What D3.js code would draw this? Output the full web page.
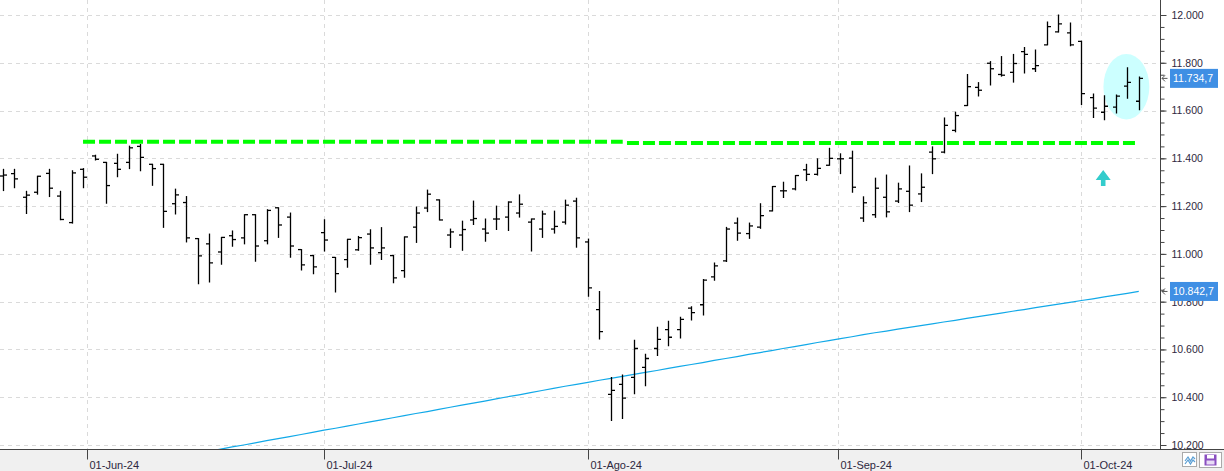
<!DOCTYPE html>
<html><head><meta charset="utf-8">
<script src="https://cdn.jsdelivr.net/npm/d3@7"></script>
<style>html,body{margin:0;padding:0;background:#fff;overflow:hidden}svg{display:block}</style>
</head><body><div id="chart"></div>
<script>
// ---- data (IBEX 35, daily OHLC bars, 22-May-24 .. 08-Oct-24) ----
const open = [11326,11336,11237,11258,11337,11242,11131,11354,11410,11383,
11379,11383,11450,11375,11375,11210,11215,11064,11042,11008,
11076,11067,11164,11055,11193,11154,11018,10993,11089,10985,
10976,11017,11083,11005,10993,10930,11112,11192,11226,11079,
11079,11142,11104,11146,11154,11171,11133,11104,11104,11133,
11221,11050,10767,10412,10454,10483,10525,10604,10683,10683,
10773,10787,10904,10971,11129,11085,11112,11180,11264,11272,
11352,11333,11371,11398,11401,11150,11164,11237,11221,11262,
11251,11426,11426,11517,11621,11697,11798,11751,11760,11847,
11775,11875,11929,11925,11890,11654,11593,11614,11702,11639];
const high = [11354,11354,11262,11325,11354,11262,11348,11357,11413,11383,
11417,11451,11458,11375,11375,11271,11240,11064,11083,11069,
11096,11164,11164,11185,11193,11171,11018,10993,11143,10985,
11061,11073,11101,11110,10993,11071,11196,11267,11226,11104,
11137,11221,11146,11200,11218,11247,11146,11179,11179,11225,
11233,11062,10843,10483,10493,10639,10580,10693,10718,10735,
10779,10893,10962,11111,11150,11129,11210,11282,11300,11328,
11375,11398,11442,11419,11430,11239,11317,11330,11296,11368,
11335,11448,11569,11593,11751,11717,11805,11826,11835,11864,
11854,11971,12000,11967,11890,11669,11662,11665,11779,11740];
const low = [11265,11277,11169,11250,11240,11143,11129,11277,11393,11212,
11323,11357,11348,11287,11111,11167,11050,10875,10882,10957,
11032,11042,10969,11042,11069,10986,10933,10917,11012,10840,
10944,11015,10957,10977,10879,10902,11048,11177,11142,11027,
11015,11123,11053,11102,11098,11154,11012,11069,11087,11125,
11028,10823,10644,10303,10311,10415,10448,10575,10615,10648,
10723,10744,10890,10968,11057,11065,11107,11180,11236,11268,
11307,11330,11371,11336,11258,11136,11153,11155,11215,11177,
11219,11336,11423,11511,11621,11661,11707,11744,11719,11757,
11763,11875,11929,11871,11625,11571,11562,11590,11652,11603];
const close = [11330,11314,11246,11325,11275,11144,11339,11321,11396,11286,
11354,11444,11404,11357,11178,11247,11067,10992,10962,11069,
11060,11164,11033,11182,11121,11033,10954,10946,11058,10917,
11061,11068,11025,11025,10900,11071,11171,11250,11142,11092,
11102,11148,11087,11146,11217,11208,11146,11167,11115,11204,
11067,10858,10675,10429,10396,10604,10562,10642,10651,10726,
10754,10890,10950,11104,11087,11117,11160,11282,11264,11328,
11333,11358,11400,11398,11279,11214,11275,11176,11272,11204,
11279,11398,11538,11579,11700,11685,11775,11748,11797,11835,
11788,11951,11963,11875,11671,11610,11618,11660,11718,11734.7];
// 200-session moving average, starting at bar index 17
const maStart = 17;
const ma = [10165,10174,10183,10192,10200,10209,10218,10227,10235,10244,
10253,10262,10270,10279,10288,10297,10305,10314,10323,10332,
10340,10349,10358,10367,10375,10384,10393,10402,10410,10419,
10428,10437,10446,10454,10462,10471,10479,10487,10496,10504,
10512,10521,10529,10537,10545,10554,10562,10570,10579,10587,
10595,10604,10612,10620,10629,10637,10645,10653,10662,10670,
10677,10685,10692,10700,10707,10715,10722,10730,10737,10745,
10752,10760,10767,10775,10782,10790,10797,10805,10812,10820,
10827,10835,10842.7];
// horizontal resistance (dashed green), as [fromBar, toBar, level]
const resistance = [[7.0, 54.03, 11469], [54.4, 98.7, 11464]];
// annotation: highlighted last bars and up arrow
const highlightBars = [95.92, 99.92];
const highlightRange = [11563, 11837];
const arrowBar = 95.9, arrowLevel = [11351, 11284];
// axis ticks
const xTickPos = [7.35, 28, 51, 72.75, 94];
const xTickLabels = ["01-Jun-24","01-Jul-24","01-Ago-24","01-Sep-24","01-Oct-24"];
const yMajor = [10200,10400,10600,10800,11000,11200,11400,11600,11800,12000];
const yMinor = d3.range(10200, 12001, 50);

// ---- layout ----
const W = 1224, H = 471, plotR = 1160.5, plotB = 449.5;
const loc = d3.formatLocale({decimal: ",", thousands: ".", grouping: [3], currency: ["", ""]});
const fInt = loc.format(",.0f"), fOne = loc.format(",.1f");

const x = d3.scaleLinear().domain([-0.235, 100.85]).range([0, 1160]);
const y = d3.scaleLinear().domain([10200, 12000]).range([445, 15]);

const svg = d3.select("#chart").append("svg").attr("width", W).attr("height", H)
  .style("font-family", "'Liberation Sans', Arial, sans-serif");
svg.append("rect").attr("width", W).attr("height", H).attr("fill", "#fff");
svg.append("rect").attr("x", 0).attr("y", plotB).attr("width", W).attr("height", H - plotB).attr("fill", "#f0f0f0");

svg.append("clipPath").attr("id", "clip").append("rect").attr("x", 0).attr("y", 0).attr("width", plotR).attr("height", plotB);
const plot = svg.append("g").attr("clip-path", "url(#clip)");

// gridlines
plot.selectAll("line.hg").data(yMajor).join("line").attr("class", "hg")
  .attr("x1", 0).attr("x2", plotR).attr("y1", d => Math.round(y(d)) + 0.5).attr("y2", d => Math.round(y(d)) + 0.5)
  .attr("stroke", "#dadada").attr("stroke-dasharray", "4,4");
plot.selectAll("line.vg").data(xTickPos).join("line").attr("class", "vg")
  .attr("y1", 0).attr("y2", plotB).attr("x1", d => Math.round(x(d)) + 0.5).attr("x2", d => Math.round(x(d)) + 0.5)
  .attr("stroke", "#dadada").attr("stroke-dasharray", "4,4");

// highlight ellipse
plot.append("ellipse")
  .attr("cx", (x(highlightBars[0]) + x(highlightBars[1])) / 2)
  .attr("cy", (y(highlightRange[0]) + y(highlightRange[1])) / 2)
  .attr("rx", (x(highlightBars[1]) - x(highlightBars[0])) / 2)
  .attr("ry", (y(highlightRange[0]) - y(highlightRange[1])) / 2)
  .attr("fill", "#ccffff");

// moving average
const maPts = ma.map((v, i) => [maStart + i, v]);
plot.append("path").datum(maPts)
  .attr("d", d3.line().x(d => x(d[0])).y(d => y(d[1])))
  .attr("fill", "none").attr("stroke", "#12a9e8").attr("stroke-width", 1.2);

// OHLC bars
const bars = open.map((o, i) => ({i, o, h: high[i], l: low[i], c: close[i]}));
const bg = plot.append("g").attr("stroke", "#000").attr("stroke-width", 1.3);
const bx = d => Math.round(x(d.i)) + 0.5;
bg.selectAll("line.hl").data(bars).join("line").attr("class", "hl")
  .attr("x1", bx).attr("x2", bx).attr("y1", d => y(d.h) - 0.5).attr("y2", d => y(d.l) + 0.5);
bg.selectAll("line.op").data(bars).join("line").attr("class", "op")
  .attr("x1", d => bx(d) - 3.5).attr("x2", bx).attr("y1", d => y(d.o)).attr("y2", d => y(d.o));
bg.selectAll("line.cl").data(bars).join("line").attr("class", "cl")
  .attr("x1", bx).attr("x2", d => bx(d) + 3.5).attr("y1", d => y(d.c)).attr("y2", d => y(d.c));

// resistance lines
plot.selectAll("line.res").data(resistance).join("line").attr("class", "res")
  .attr("x1", d => x(d[0])).attr("x2", d => x(d[1]))
  .attr("y1", d => y(d[2])).attr("y2", d => y(d[2]))
  .attr("stroke", "#00ff00").attr("stroke-width", 4).attr("stroke-dasharray", "12,4");

// up arrow
{
  const ax = x(arrowBar), yt = y(arrowLevel[0]), yb = y(arrowLevel[1]);
  const hb = yt + (yb - yt) * 0.62;
  plot.append("path")
    .attr("d", `M${ax},${yt} L${ax + 7.5},${hb} L${ax + 2.3},${hb} L${ax + 2.3},${yb} L${ax - 2.3},${yb} L${ax - 2.3},${hb} L${ax - 7.5},${hb} Z`)
    .attr("fill", "#33cccc");
}

// right axis
svg.append("line").attr("x1", plotR).attr("x2", plotR).attr("y1", 0).attr("y2", plotB).attr("stroke", "#444");
const minorAx = svg.append("g").attr("transform", `translate(${plotR},0)`)
  .call(d3.axisRight(y).tickValues(yMinor).tickSize(4).tickFormat(""));
const majorAx = svg.append("g").attr("transform", `translate(${plotR},0)`)
  .call(d3.axisRight(y).tickValues(yMajor).tickSize(6).tickPadding(5).tickFormat(fInt));
[minorAx, majorAx].forEach(g => { g.select(".domain").remove(); g.selectAll(".tick line").attr("stroke", "#444"); });
majorAx.selectAll("text").attr("fill", "#2e2840").style("font-size", "10.5px").style("font-family", "'Liberation Sans', Arial, sans-serif");

// bottom axis
svg.append("line").attr("x1", 0).attr("x2", W).attr("y1", plotB).attr("y2", plotB).attr("stroke", "#444");
const xAx = svg.append("g").attr("transform", `translate(0,${plotB})`)
  .call(d3.axisBottom(x).tickValues(xTickPos).tickSize(10).tickFormat((d, i) => xTickLabels[i]));
xAx.select(".domain").remove();
xAx.selectAll(".tick line").attr("stroke", "#444");
xAx.selectAll(".tick").attr("transform", d => `translate(${Math.round(x(d)) + 0.5},0)`);
xAx.selectAll("text").attr("text-anchor", "start").attr("x", 2).attr("y", 19.5).attr("dy", 0)
  .attr("fill", "#2e2840").style("font-size", "11px").style("font-family", "'Liberation Sans', Arial, sans-serif");

// value boxes
const boxes = [close[close.length - 1], ma[ma.length - 1]];
const vb = svg.append("g");
boxes.forEach(v => {
  const yy = y(v);
  vb.append("path").attr("d", `M${plotR + 7},${yy} L${plotR + 1.5},${yy} M${plotR + 1.5},${yy} L${plotR + 4.5},${yy - 3} M${plotR + 1.5},${yy} L${plotR + 4.5},${yy + 3}`)
    .attr("stroke", "#555").attr("fill", "none");
  vb.append("rect").attr("x", 1170).attr("y", yy - 9.5).attr("width", 48).attr("height", 19).attr("fill", "#3f8fe4");
  vb.append("text").attr("x", 1173).attr("y", yy + 4).attr("fill", "#fff")
    .style("font-size", "10.5px").text(fOne(v));
});

// toolbar icons (bottom right)
const ic = svg.append("g");
ic.append("rect").attr("x", 1182.5).attr("y", 452.5).attr("width", 14).attr("height", 14).attr("fill", "#fff").attr("stroke", "#aaa");
ic.append("path").attr("d", "M1185,461 L1188,457 L1190.5,461 L1193,457 L1195,459 M1185,464 L1188,460 L1190.5,464 L1193,460 L1195,462")
  .attr("fill", "none").attr("stroke", "#5a9fd4").attr("stroke-width", 1.2);
ic.append("rect").attr("x", 1199.5).attr("y", 452.5).attr("width", 22).attr("height", 15).attr("fill", "#fff").attr("stroke", "#aaa");
ic.append("rect").attr("x", 1204.5).attr("y", 454.5).attr("width", 12).attr("height", 11).attr("fill", "#8a4fc0");
ic.append("rect").attr("x", 1207).attr("y", 455).attr("width", 7).attr("height", 3.5).attr("fill", "#fff");
ic.append("rect").attr("x", 1206.5).attr("y", 460.5).attr("width", 8).attr("height", 4).attr("fill", "#e8dcf5");
</script></body></html>
